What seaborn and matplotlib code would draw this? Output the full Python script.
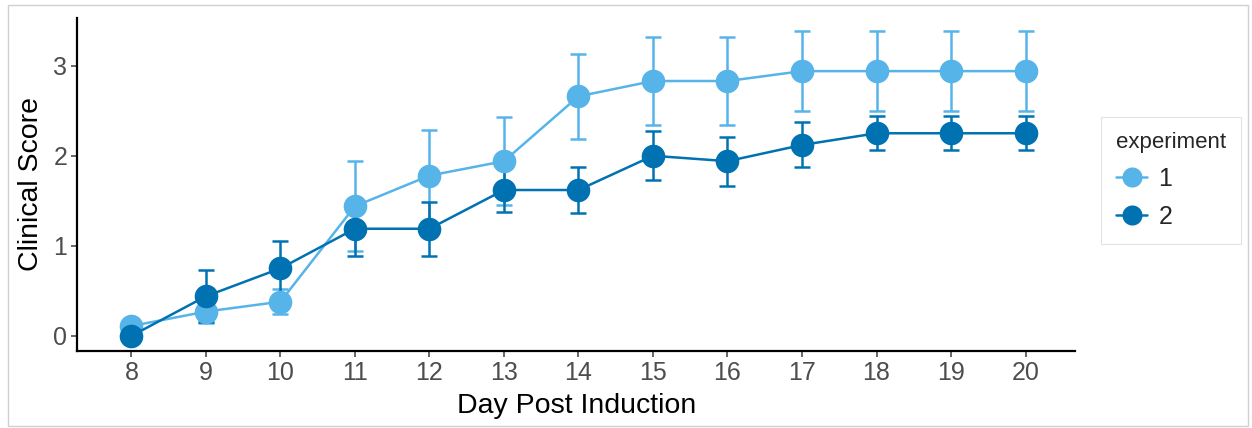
import numpy as np
import pandas as pd
import seaborn as sns
import matplotlib.pyplot as plt
from matplotlib.patches import Rectangle

# --- DATA ---
days = [8, 9, 10, 11, 12, 13, 14, 15, 16, 17, 18, 19, 20]
exp1_mean = [0.11, 0.27, 0.38, 1.44, 1.78, 1.94, 2.66, 2.83, 2.83, 2.94, 2.94, 2.94, 2.94]
exp1_se = [0.0, 0.13, 0.14, 0.50, 0.51, 0.49, 0.47, 0.49, 0.49, 0.44, 0.44, 0.44, 0.44]
exp2_mean = [0.0, 0.44, 0.75, 1.19, 1.19, 1.62, 1.62, 2.00, 1.94, 2.12, 2.25, 2.25, 2.25]
exp2_se = [0.0, 0.29, 0.30, 0.30, 0.30, 0.24, 0.26, 0.27, 0.27, 0.25, 0.19, 0.19, 0.19]
experiments = ["1", "2"]
colors = {"1": "#56B4E9", "2": "#0072B2"}

df = pd.DataFrame({
    "day": days * 2,
    "score": exp1_mean + exp2_mean,
    "se": exp1_se + exp2_se,
    "experiment": ["1"] * len(days) + ["2"] * len(days),
})

sns.set_style("white")
plt.rcParams["font.family"] = ["Liberation Sans", "DejaVu Sans"]

fig = plt.figure(figsize=(12.52, 4.28), dpi=100)
ax = fig.add_axes([0.0615, 0.18, 0.7975, 0.778])

# error bars first so the points sit on top
for exp in experiments:
    sub = df[df["experiment"] == exp]
    ax.errorbar(sub["day"], sub["score"], yerr=sub["se"], fmt="none",
                ecolor=colors[exp], elinewidth=1.8, capsize=5.5, capthick=1.8, zorder=2)

sns.lineplot(data=df, x="day", y="score", hue="experiment", hue_order=experiments,
             palette=colors, marker="o", markersize=17, markeredgewidth=0,
             linewidth=1.8, ax=ax, zorder=3)

ax.set_xlim(7.27, 20.67)
ax.set_ylim(-0.167, 3.53)
ax.set_xticks(days)
ax.set_yticks([0, 1, 2, 3])
ax.tick_params(axis="both", colors="#4d4d4d", labelsize=18, length=4, width=1.2,
               left=True, bottom=True, pad=3)
ax.set_xlabel("Day Post Induction", fontsize=20.5, color="black", labelpad=6)
ax.set_ylabel("Clinical Score", fontsize=20.5, color="black", labelpad=7)

sns.despine(ax=ax)
for side in ["left", "bottom"]:
    ax.spines[side].set_color("black")
    ax.spines[side].set_linewidth(1.6)

handles, labels = ax.get_legend_handles_labels()
ax.legend_.remove()
leg = fig.legend(handles, labels, title="experiment", loc="upper left",
                 bbox_to_anchor=(0.8794, 0.7266), borderaxespad=0,
                 fontsize=18, title_fontsize=16, markerscale=0.85,
                 frameon=True, fancybox=False, edgecolor="#dddddd",
                 handlelength=1.25, borderpad=0.6, labelspacing=0.55,
                 handletextpad=0.45)
leg.get_frame().set_linewidth(0.8)
leg._legend_box.align = "left"

# thin grey frame around the whole picture
fig.patches.append(Rectangle((0.006, 0.005), 0.991, 0.983, transform=fig.transFigure,
                             fill=False, edgecolor="#d0d0d0", linewidth=1.0))

fig.savefig("out.png", dpi=100)
